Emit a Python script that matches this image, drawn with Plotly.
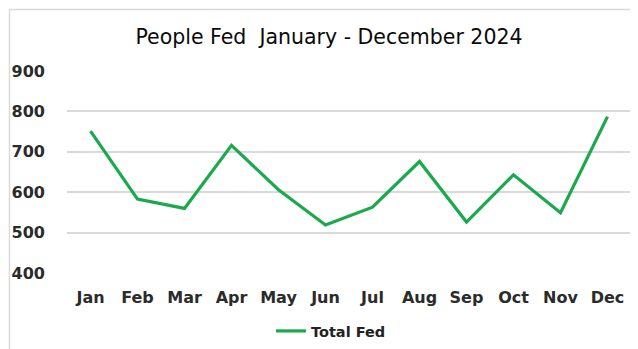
import plotly.graph_objects as go

months = ["Jan", "Feb", "Mar", "Apr", "May", "Jun", "Jul", "Aug", "Sep", "Oct", "Nov", "Dec"]
total_fed = [751, 583, 560, 716, 606, 519, 563, 676, 526, 643, 549, 787]
y_ticks = [400, 500, 600, 700, 800, 900]

# the page has an 8px body margin, so the figure is 8px smaller than the window
W, H = 630, 341
L, R, T, B = 59, 7, 63, 76
PW, PH = W - L - R, H - T - B

fig = go.Figure()
fig.add_trace(go.Scatter(
    x=months, y=total_fed, mode="lines", name="Total Fed",
    line=dict(color="#1aa94c", width=3.2),
))

font_fam = "DejaVu Sans, Liberation Sans, sans-serif"
fx = (1.5 - L) / PW
fy = (PH + T - 1.5) / PH
fig.update_layout(
    width=W, height=H,
    margin=dict(l=L, r=R, t=T, b=B, autoexpand=False),
    paper_bgcolor="white", plot_bgcolor="white",
    title=dict(text="People Fed  January - December 2024", x=321 / W, xanchor="center",
               y=1 - 29 / H, yanchor="middle",
               font=dict(family=font_fam, size=20.5, color="#0a0a0a")),
    showlegend=True,
    legend=dict(orientation="h", xref="container", yref="container",
                x=323 / W, xanchor="center", y=1 - 323 / H, yanchor="middle",
                font=dict(family=font_fam, size=14.5, color="#222222", weight="bold"),
                itemwidth=30),
    xaxis=dict(range=[-0.5, 11.5], showgrid=False, showline=False, zeroline=False,
               ticks="", ticklabelstandoff=13,
               tickfont=dict(family=font_fam, size=16, color="#2b2b2b", weight="bold")),
    yaxis=dict(range=[400, 900], tickvals=y_ticks, showgrid=True, gridcolor="#d9d9d9",
               gridwidth=1.5, zeroline=False, showline=False, ticks="",
               ticklabelstandoff=21,
               tickfont=dict(family=font_fam, size=16, color="#2b2b2b", weight="bold")),
    shapes=[
        dict(type="line", xref="paper", yref="paper", x0=fx, x1=1.2,
             y0=fy, y1=fy, line=dict(color="#d9d9d9", width=1.5)),
        dict(type="line", xref="paper", yref="paper", x0=fx, x1=fx,
             y0=fy, y1=-0.5, line=dict(color="#d9d9d9", width=1.5)),
    ],
)

fig.write_html("out.html")
